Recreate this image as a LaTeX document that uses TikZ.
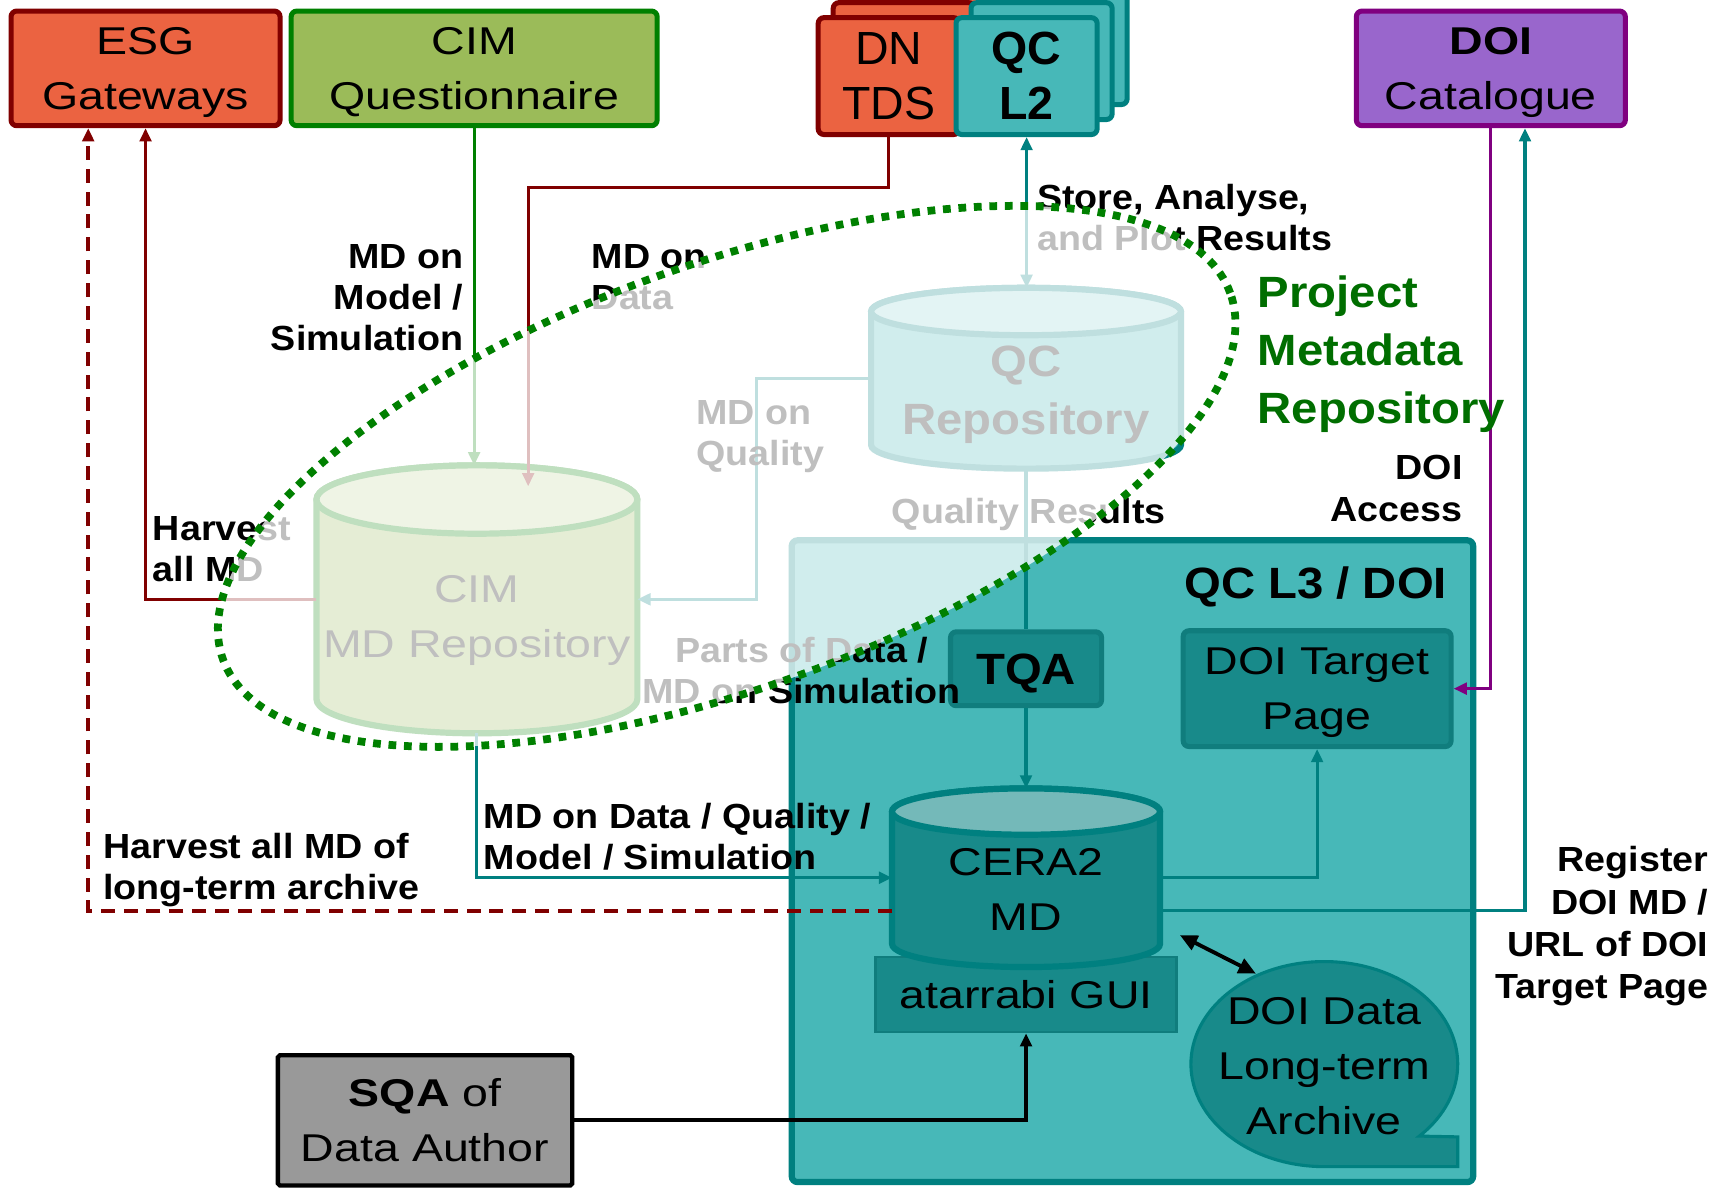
\documentclass[tikz,border=0pt]{standalone}
\usepackage{fontspec}
\setmainfont{Liberation Sans}
\newfontfamily\boxfont{Liberation Sans}[FakeStretch=1.2]
\newfontfamily\labelfont{Liberation Sans}[FakeStretch=1.08]
\usetikzlibrary{arrows.meta, calc, shapes.geometric}

\definecolor{esgred}{RGB}{235,99,65}
\definecolor{darkred}{RGB}{128,0,0}
\definecolor{cimgreen}{RGB}{155,187,89}
\definecolor{darkgreen}{RGB}{0,128,0}
\definecolor{projgreen}{RGB}{0,110,0}
\definecolor{doipurple}{RGB}{153,102,204}
\definecolor{darkpurple}{RGB}{128,0,128}
\definecolor{qcteal}{RGB}{71,184,184}
\definecolor{darkteal}{RGB}{0,128,128}
\definecolor{deepteal}{RGB}{24,138,138}
\definecolor{edgeteal}{RGB}{16,125,125}
\definecolor{sqagray}{RGB}{153,153,153}

\newcommand{\boxtext}{\boxfont\fontsize{10}{14.2}\selectfont}
\newcommand{\stacktext}{\fontsize{12}{14.2}\selectfont}
\newcommand{\lbltext}{\labelfont\bfseries\fontsize{9}{10.6}\selectfont}
\newcommand{\bigtext}{\labelfont\bfseries\fontsize{11.3}{14.9}\selectfont}

% database cylinder: name, centre, width, height, end radius, fill, border, font, text
\newcommand{\dbcyl}[9]{%
  \node[minimum width=#3, minimum height=#4, inner sep=0pt, outer sep=0pt] (#1) at #2 {};
  \filldraw[fill=#6, draw=#7, line width=1.6pt]
    ($(#1.north west)+(0pt,-#5)$) -- ($(#1.south west)+(0pt,#5)$)
    arc[start angle=180, end angle=360, x radius=#3/2, y radius=#5]
    -- ($(#1.north east)+(0pt,-#5)$)
    arc[start angle=0, end angle=180, x radius=#3/2, y radius=#5] -- cycle;
  \filldraw[fill=#6!60!white, draw=#7, line width=1.6pt]
    ($(#1.north)+(0pt,-#5)$) ellipse[x radius=#3/2, y radius=#5];
  \node[align=center, inner sep=0pt, text depth=0pt, font=#8] (#1-t) at ($(#1.center)+(0pt,-#5/2)$) {#9};
}

\begin{document}
\begin{tikzpicture}[x=0.1mm, y=-0.1mm,
    >={Triangle[length=3.4pt,width=3pt]},
    box/.style={draw, line width=1.3pt, rounded corners=1.5pt, align=center, inner sep=0pt, text depth=0pt, font=\boxtext},
    stackbox/.style={box, font=\stacktext, minimum width=12.8mm, minimum height=10.6mm},
    lbl/.style={inner sep=0pt, font=\lbltext},
    conn/.style={line width=0.8pt}]
  \useasboundingbox (0,0) rectangle (1568,1078);

  % top row
  \node[box, fill=esgred, draw=darkred, minimum width=24.4mm, minimum height=10.4mm] (esg) at (132,62) {ESG\\Gateways};
  \node[box, fill=cimgreen, draw=darkgreen, minimum width=33.2mm, minimum height=10.4mm] (cimq) at (430,62) {CIM\\Questionnaire};
  \node[box, fill=doipurple, draw=darkpurple, minimum width=24.4mm, minimum height=10.4mm] (doicat) at (1352,62) {\textbf{DOI}\\Catalogue};

  % stacked data nodes
  \foreach \k in {2,1}
    \node[stackbox, fill=esgred, draw=darkred] (dnback\k) at (806+\k*13.6, 69-\k*13.6) {};
  \node[stackbox, fill=esgred, draw=darkred] (dn) at (806,69) {DN\\TDS};
  \foreach \k in {2,1}
    \node[stackbox, fill=qcteal, draw=darkteal] (qcback\k) at (931+\k*13.6, 69-\k*13.6) {};
  \node[stackbox, fill=qcteal, draw=darkteal, font=\stacktext\bfseries] (qcl2) at (931,69) {QC\\L2};

  % QC L3 / DOI area
  \node[box, fill=qcteal, draw=darkteal, line width=1.6pt, minimum width=61.8mm, minimum height=58.2mm] (qcl3) at (1027,781) {};
  \node[lbl, font=\bigtext, anchor=east] (qcl3title) at (1313,532) {QC L3 / DOI};
  \node[box, fill=deepteal, draw=edgeteal, font=\bigtext, minimum width=13.7mm, minimum height=6.7mm] (tqa) at (930.5,606.5) {TQA};
  \node[box, fill=deepteal, draw=edgeteal, minimum width=24.3mm, minimum height=10.5mm] (doitp) at (1194.5,624.5) {DOI Target\\Page};
  \node[box, fill=deepteal, draw=edgeteal, line width=0.6pt, rounded corners=0pt, minimum width=27.3mm, minimum height=6.8mm] (gui) at (930.5,902) {atarrabi GUI};

  % repositories
  \dbcyl{qcrepo}{(930.5,343)}{28.1mm}{16.4mm}{2.15mm}{qcteal}{darkteal}{\bigtext}{QC\\Repository}
  \dbcyl{cimrepo}{(432.5,543.5)}{29.1mm}{24.3mm}{3.1mm}{cimgreen}{darkgreen}{\boxtext}{CIM\\MD Repository}
  \dbcyl{cera}{(930.5,796)}{24.3mm}{16.2mm}{2.1mm}{deepteal}{darkteal}{\boxtext}{CERA2\\MD}

  % long-term archive
  \filldraw[fill=deepteal, draw=darkteal, line width=0.8pt] (1201,965) ++(-44.6:12.1mm and 9.3mm)
    arc[start angle=-44.6, end angle=270, x radius=12.1mm, y radius=9.3mm] -- (1322,1058) -- (1322,1031) -- cycle;
  \node[align=center, inner sep=0pt, text depth=0pt, font=\boxtext] (archive) at (1201,967) {DOI Data\\Long-term\\Archive};
  \coordinate (archin) at (1139,883);

  \node[box, fill=sqagray, draw=black, line width=1.1pt, rounded corners=0.5pt, minimum width=26.7mm, minimum height=11.8mm] (sqa) at (385.5,1016) {\textbf{SQA} of\\Data Author};

  % connectors
  \coordinate (dnin) at (479,441);
  \draw[conn, darkgreen, ->] (cimq.south) -- (cimq.south |- cimrepo.north);
  \draw[conn, darkred, ->] (dn.south) -- ++(0,46) -| (dnin);
  \draw[conn, darkteal, <->] (qcl2.south) -- (qcl2.south |- qcrepo.north);
  \draw[conn, darkteal, ->] (qcrepo.west) -| ($(cimrepo.east)+(108,0)$) -- (cimrepo.east);
  \draw[conn, darkred, ->] (cimrepo.west) -| (esg.south);
  \draw[line width=0.9pt, darkred, dash pattern=on 3.6pt off 2.3pt, ->] ($(cera.west)+(0,30)$) -| ($(esg.south)+(-52,0)$);
  \draw[conn, darkteal, ->] (cimrepo.south) |- (cera.west);
  \draw[conn, darkteal] ($(tqa.west)+(0,-6)$) -- ($(tqa.west)+(0,-6)$ -| cimrepo.east);
  \draw[conn, darkteal] (qcrepo.south) -- (tqa.north);
  \draw[conn, darkteal, ->] (tqa.south) -- (cera.north);
  \draw[conn, darkteal, ->] (cera.east) -| (doitp.south);
  \draw[conn, darkteal, ->] ($(cera.east)+(0,30)$) -| ($(doicat.south)+(31,0)$);
  \draw[conn, darkpurple, ->] (doicat.south) |- (doitp.east);
  \draw[line width=1pt, ->] (sqa.east) -| (gui.south);
  \draw[line width=1pt, {Triangle[length=4.5pt,width=4pt]}-{Triangle[length=4.5pt,width=4pt]}] ($(cera.south east)+(18,-29)$) -- (archin);

  % labels
  \node[lbl, anchor=east, align=right] (lblmodel) at (421,270) {MD on\\Model /\\Simulation};
  \node[lbl, anchor=west, align=left] (lbldata) at (536,251) {MD on\\Data};
  \node[lbl, anchor=west, align=left] (lblstore) at (940,197) {Store, Analyse,\\and Plot Results};
  \node[lbl, font=\bigtext, text=projgreen, anchor=west, align=left] (project) at (1140,321) {Project\\Metadata\\Repository};
  \node[lbl, anchor=east, align=right] (lblaccess) at (1327,443) {DOI\\Access};
  \node[lbl] (lblqres) at (933,467) {Quality Results};
  \node[lbl, anchor=west, align=left] (lblharvest) at (138,498) {Harvest\\all MD};
  \node[lbl, anchor=west, align=left] (lblquality) at (631,396) {MD on\\Quality};
  \node[lbl, align=center] (lblparts) at (727,608) {Parts of Data /\\MD on Simulation};
  \node[lbl, anchor=west, align=left] (lblmdall) at (438,759) {MD on Data / Quality /\\Model / Simulation};
  \node[lbl, anchor=west, align=left] (lbllong) at (93,789) {Harvest all MD of\\long-term archive};
  \node[lbl, anchor=east, align=right, font=\labelfont\bfseries\fontsize{9}{10.9}\selectfont] (lblregister) at (1550,840) {Register\\DOI MD /\\URL of DOI\\Target Page};

  % project metadata repository: faded region and dotted outline
  \begin{scope}[shift={(659,432)}, rotate=20]
    \fill[white, fill opacity=0.75] (0,0) ellipse[x radius=48.6mm, y radius=19.2mm];
    \draw[darkgreen, line width=2pt, dash pattern=on 2pt off 2pt] (0,0) ellipse[x radius=48.6mm, y radius=19.2mm];
  \end{scope}
\end{tikzpicture}
\end{document}
